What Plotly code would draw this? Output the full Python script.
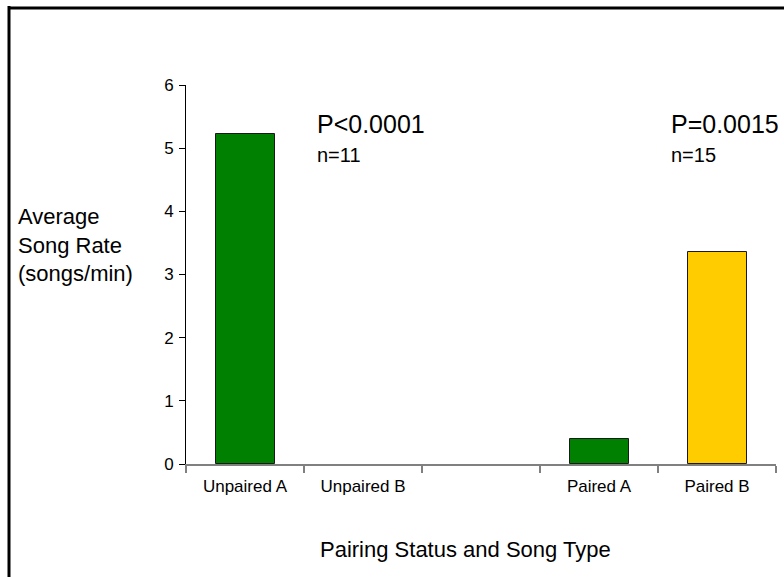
import plotly.graph_objects as go

categories = ["Unpaired A", "Unpaired B", "", "Paired A", "Paired B"]
values = [5.23, 0, None, 0.40, 3.35]
bar_colors = ["#008000", "#008000", "#008000", "#008000", "#FFCC00"]
y_ticks = [0, 1, 2, 3, 4, 5, 6]
stat_labels = [("P<0.0001", "n=11", 0.5), ("P=0.0015", "n=15", 3.5)]

FONT = "Liberation Sans, Arial, sans-serif"
W, H = 784, 577
L, R, T, B = 186, 8, 85, 113
pw, ph = W - L - R, H - T - B

def px_x(p):
    return (p - L) / pw

def px_y(p):
    return (H - B - p) / ph

x_idx = list(range(len(categories)))
line_w = [0 if (v is None or v == 0) else 1 for v in values]

fig = go.Figure()
fig.add_trace(go.Bar(
    x=x_idx, y=values, width=0.5,
    marker=dict(color=bar_colors, line=dict(color="#1a1a1a", width=line_w)),
    showlegend=False, hoverinfo="skip",
))

annotations = []
for p_txt, n_txt, xpos in stat_labels:
    annotations.append(dict(x=xpos + 0.094, y=5.38, xref="x", yref="y", text=p_txt,
                            showarrow=False, xanchor="left", yanchor="middle",
                            font=dict(family=FONT, size=25, color="black")))
    annotations.append(dict(x=xpos + 0.094, y=4.89, xref="x", yref="y", text=n_txt,
                            showarrow=False, xanchor="left", yanchor="middle",
                            font=dict(family=FONT, size=20, color="black")))

annotations.append(dict(x=px_x(16), y=px_y(245), xref="paper", yref="paper",
                        text="Average<br>Song Rate<br>(songs/min)", align="left",
                        showarrow=False, xanchor="left", yanchor="middle",
                        font=dict(family=FONT, size=22, color="black")))
annotations.append(dict(x=px_x(465), y=px_y(549), xref="paper", yref="paper",
                        text="Pairing Status and Song Type",
                        showarrow=False, xanchor="center", yanchor="middle",
                        font=dict(family=FONT, size=22, color="black")))

shapes = [
    dict(type="line", xref="paper", yref="paper", x0=px_x(9), x1=px_x(9),
         y0=px_y(6), y1=px_y(600), line=dict(color="black", width=3)),
    dict(type="line", xref="paper", yref="paper", x0=px_x(8), x1=px_x(800),
         y0=px_y(8), y1=px_y(8), line=dict(color="black", width=3)),
]

fig.update_layout(
    width=W, height=H,
    margin=dict(l=L, r=R, t=T, b=B, pad=0),
    paper_bgcolor="white", plot_bgcolor="white",
    bargap=0,
    annotations=annotations, shapes=shapes,
    font=dict(family=FONT, color="black"),
    xaxis=dict(
        range=[-0.5, len(categories) - 0.5],
        tickvals=x_idx, ticktext=categories,
        ticks="", showgrid=False, zeroline=False,
        showline=True, linecolor="#808080", linewidth=1.5,
        tickfont=dict(family=FONT, size=17, color="black"),
        ticklabelstandoff=6,
        minor=dict(tick0=-0.5, dtick=1, ticks="outside", ticklen=7,
                   tickcolor="#808080", tickwidth=1.5, showgrid=False),
    ),
    yaxis=dict(
        range=[0, 6], tickvals=y_ticks, ticks="outside", ticklen=6,
        tickcolor="black", tickwidth=1, showgrid=False, zeroline=False,
        showline=True, linecolor="black", linewidth=1,
        tickfont=dict(family=FONT, size=17, color="black"),
        ticklabelstandoff=2,
    ),
)

fig.write_html("out.html")
